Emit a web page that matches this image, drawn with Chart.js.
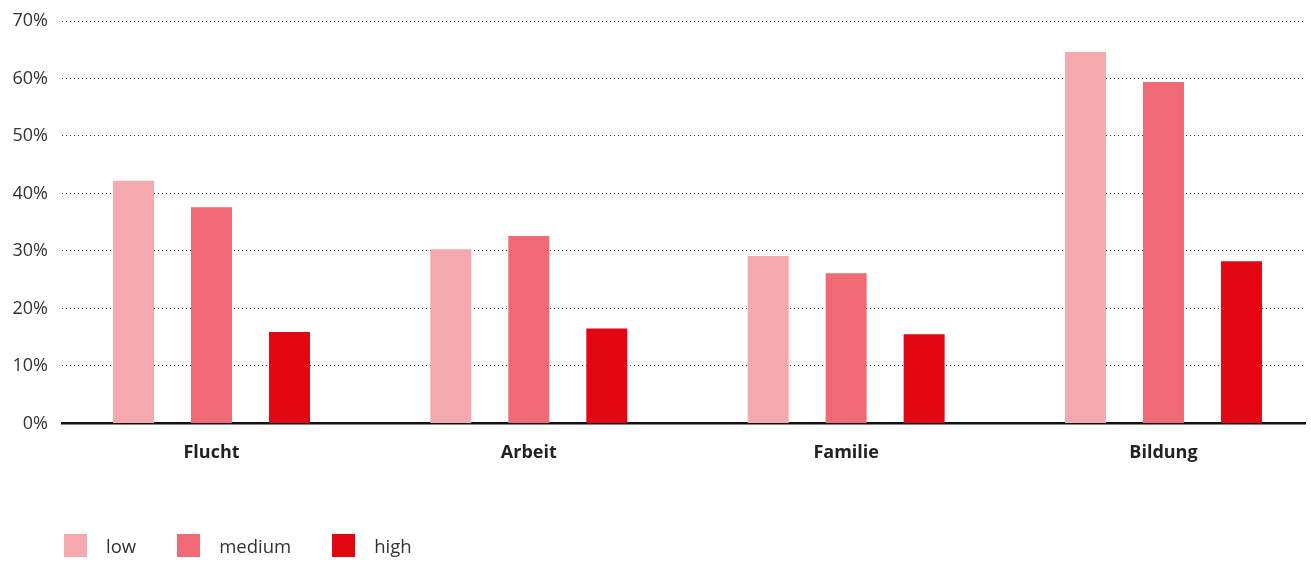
<!DOCTYPE html>
<html>
<head>
<meta charset="utf-8">
<script src="https://cdn.jsdelivr.net/npm/chart.js@4"></script>
<style>
  html, body { margin: 0; padding: 0; background: #fff; }
  #wrap { position: relative; width: 1311px; height: 562px; }
  #legend {
    position: absolute; left: 64px; top: 533px;
    display: flex; align-items: center;
    font-family: "Open Sans", sans-serif; font-size: 18.5px; color: #333;
  }
  .item { display: flex; align-items: center; margin-right: 41px; }
  .box { width: 23px; height: 23px; margin-right: 19px; }
</style>
</head>
<body>
<div id="wrap">
  <canvas id="chart" width="1311" height="562"></canvas>
  <div id="legend"></div>
</div>
<script>
// data
const categories = ['Flucht', 'Arbeit', 'Familie', 'Bildung'];
const seriesNames = ['low', 'medium', 'high'];
const lowValues = [42.2, 30.3, 29.1, 64.6];
const mediumValues = [37.6, 32.6, 26.1, 59.4];
const highValues = [15.9, 16.5, 15.5, 28.2];
const yTicks = [0, 10, 20, 30, 40, 50, 60, 70];

const colors = ['#f5a8ae', '#ef6a74', '#e30613'];
const allValues = [lowValues, mediumValues, highValues];

const datasets = seriesNames.map((name, s) => ({
    label: name,
    data: allValues[s].map((v, i) => ({ x: i, y: v })),
    backgroundColor: colors[s],
    borderWidth: 0,
    categoryPercentage: 0.7374,
    barPercentage: 0.5256
}));

const ctx = document.getElementById('chart').getContext('2d');
const chart = new Chart(ctx, {
    type: 'bar',
    data: { datasets: datasets },
    options: {
        responsive: false,
        animation: false,
        layout: { padding: { top: 21, right: 6, bottom: 79, left: 0 } },
        plugins: {
            legend: { display: false },
            tooltip: { enabled: false }
        },
        scales: {
            x: {
                type: 'linear',
                offset: false,
                min: -0.4711,
                max: 3.446,
                afterBuildTicks: scale => {
                    scale.ticks = categories.map((c, i) => ({ value: i }));
                },
                grid: { display: false, drawTicks: false },
                border: { display: true, color: '#111', width: 2.5 },
                ticks: {
                    autoSkip: false,
                    maxRotation: 0,
                    padding: 19,
                    color: '#222',
                    font: { family: 'Open Sans', size: 18, weight: 'bold' },
                    callback: v => categories[v]
                }
            },
            y: {
                min: 0,
                max: 70,
                afterBuildTicks: scale => {
                    scale.ticks = yTicks.map(v => ({ value: v }));
                },
                afterFit: scale => {
                    scale.width = 62;
                    scale.paddingTop = 10;
                    scale.paddingBottom = 10;
                },
                grid: { color: '#333', lineWidth: 1, drawTicks: false },
                border: { display: false, dash: [1, 3] },
                ticks: {
                    padding: 14,
                    color: '#333',
                    font: { family: 'Open Sans', size: 18 },
                    callback: v => v + '%'
                }
            }
        }
    }
});

// legend as html, colours and labels taken from the chart
const legendEl = document.getElementById('legend');
chart.data.datasets.forEach(ds => {
    const item = document.createElement('div');
    item.className = 'item';
    const box = document.createElement('span');
    box.className = 'box';
    box.style.background = ds.backgroundColor;
    const txt = document.createElement('span');
    txt.textContent = ds.label;
    item.appendChild(box);
    item.appendChild(txt);
    legendEl.appendChild(item);
});
</script>
</body>
</html>
